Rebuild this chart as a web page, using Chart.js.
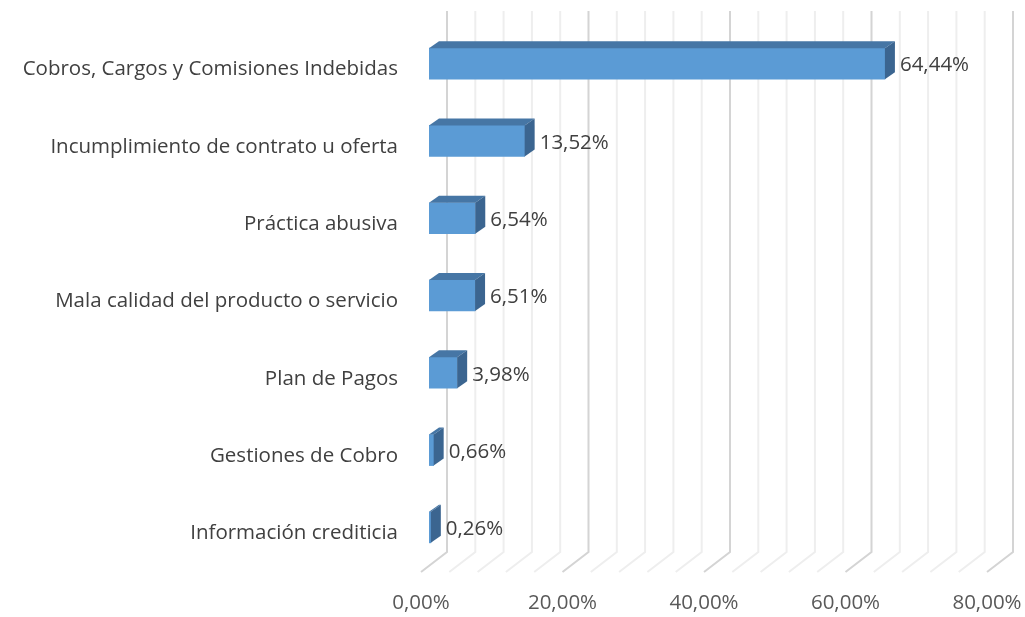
<!DOCTYPE html>
<html>
<head>
<meta charset="utf-8">
<script src="https://cdn.jsdelivr.net/npm/chart.js@4/dist/chart.umd.min.js"></script>
<style>
  html, body { margin: 0; padding: 0; background: #fff; }
  #wrap { width: 1025px; height: 617px; }
</style>
</head>
<body>
<div id="wrap"><canvas id="grafico"></canvas></div>
<script>
const categorias = [
  "Cobros, Cargos y Comisiones Indebidas",
  "Incumplimiento de contrato u oferta",
  "Práctica abusiva",
  "Mala calidad del producto o servicio",
  "Plan de Pagos",
  "Gestiones de Cobro",
  "Información crediticia"
];
const porcentajes = [64.44, 13.52, 6.54, 6.51, 3.98, 0.66, 0.26];
const ticksX = [0, 20, 40, 60, 80];

const FONT = "'Open Sans', 'DejaVu Sans', sans-serif";
const fmt = (v, d) => v.toFixed(d).replace(".", ",") + "%";

// profundidad del efecto 3D
const DX = 10, DY = -7;
// pared del fondo y piso
const WALL_DX = 18, FLOOR_DX = -26, FLOOR_DY = 20;

const efecto3D = {
  id: "efecto3D",
  beforeDatasetsDraw(chart) {
    const ctx = chart.ctx;
    const x = chart.scales.x;
    const top = 11, base = 552;
    ctx.save();
    for (let v = 0; v <= 80; v += 4) {
      const bx = x.getPixelForValue(v) + WALL_DX;
      const major = v % 20 === 0;
      ctx.strokeStyle = major ? "#d4d4d4" : "#eeeeee";
      ctx.lineWidth = 2;
      ctx.beginPath();
      ctx.moveTo(bx, top);
      ctx.lineTo(bx, base);
      ctx.lineTo(bx + FLOOR_DX, base + FLOOR_DY);
      ctx.stroke();
    }
    ctx.restore();
  },
  afterDatasetsDraw(chart) {
    const ctx = chart.ctx;
    const meta = chart.getDatasetMeta(0);
    ctx.save();
    meta.data.forEach((bar, i) => {
      const p = bar.getProps(["x", "y", "base", "height"], true);
      const l = p.base, r = p.x, t = p.y - p.height / 2, b = p.y + p.height / 2;
      // cara superior
      ctx.fillStyle = "#4676a5";
      ctx.beginPath();
      ctx.moveTo(l, t);
      ctx.lineTo(l + DX, t + DY);
      ctx.lineTo(r + DX, t + DY);
      ctx.lineTo(r, t);
      ctx.closePath();
      ctx.fill();
      // cara lateral
      ctx.fillStyle = "#3b6590";
      ctx.beginPath();
      ctx.moveTo(r, t);
      ctx.lineTo(r + DX, t + DY);
      ctx.lineTo(r + DX, b + DY);
      ctx.lineTo(r, b);
      ctx.closePath();
      ctx.fill();
      // etiqueta
      ctx.fillStyle = "#404040";
      ctx.font = "20.5px " + FONT;
      ctx.textAlign = "left";
      ctx.textBaseline = "middle";
      ctx.fillText(fmt(porcentajes[i], 2), r + DX + 5, p.y + 2);
    });
    ctx.restore();
  },
  afterDraw(chart) {
    const ctx = chart.ctx;
    const x = chart.scales.x;
    ctx.save();
    ctx.fillStyle = "#595959";
    ctx.font = "20.5px " + FONT;
    ctx.textAlign = "center";
    ctx.textBaseline = "middle";
    ticksX.forEach(v => {
      ctx.fillText(fmt(v, 2), x.getPixelForValue(v) + WALL_DX + FLOOR_DX, 603);
    });
    ctx.restore();
  }
};

new Chart(document.getElementById("grafico"), {
  type: "bar",
  data: {
    labels: categorias,
    datasets: [{
      data: porcentajes,
      backgroundColor: "#5b9bd5",
      borderWidth: 0,
      barThickness: 31
    }]
  },
  options: {
    indexAxis: "y",
    responsive: true,
    maintainAspectRatio: false,
    animation: false,
    layout: { padding: { top: 25, bottom: 51, left: 0, right: 30 } },
    plugins: { legend: { display: false }, tooltip: { enabled: false } },
    scales: {
      x: {
        display: false,
        min: 0,
        max: 80
      },
      y: {
        grid: { display: false, drawTicks: false },
        border: { display: false },
        afterFit(scale) {
          scale.width = 429;
          scale.paddingTop = 0;
          scale.paddingBottom = 0;
        },
        ticks: {
          color: "#404040",
          font: { family: FONT, size: 20.5 },
          padding: 31,
          labelOffset: 6,
          autoSkip: false
        }
      }
    }
  },
  plugins: [efecto3D]
});
</script>
</body>
</html>
